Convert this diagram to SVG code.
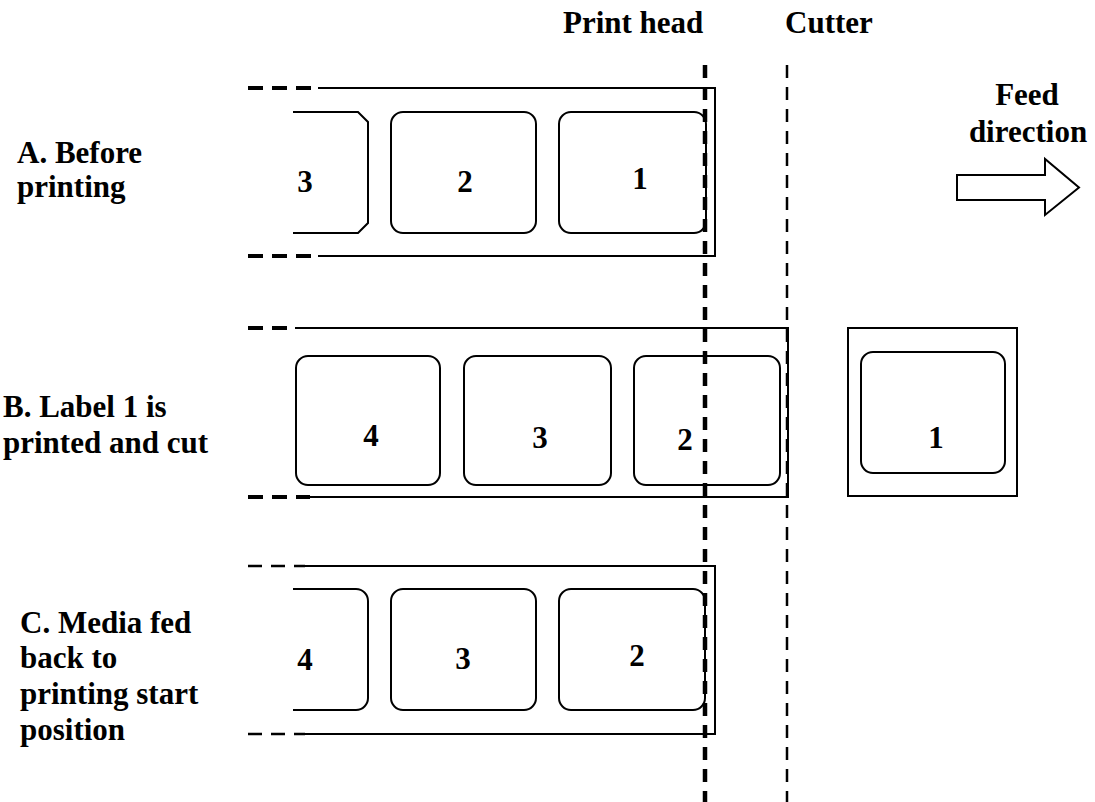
<svg xmlns="http://www.w3.org/2000/svg" width="1095" height="802" viewBox="0 0 1095 802">
<style>
.t{font-family:'Liberation Serif',serif;font-weight:700;font-size:31px;fill:#000}
.ln{fill:none;stroke:#000;stroke-width:2}
.lbl{fill:none;stroke:#000;stroke-width:2}
.dth{fill:none;stroke:#000;stroke-width:4;stroke-dasharray:15 9}
.dtn{fill:none;stroke:#000;stroke-width:2.5;stroke-dasharray:14 9}
</style>
<rect width="1095" height="802" fill="#fff"/>
<g id="titles" class="t" font-family="Liberation Serif, serif">
<text x="563" y="33">Print head</text>
<text x="785" y="33">Cutter</text>
<text x="1027" y="105" text-anchor="middle">Feed</text>
<text x="1028" y="142" text-anchor="middle">direction</text>
</g>
<g id="feed-arrow">
<path class="ln" d="M957,175 H1045 V159 L1079,187.5 L1045,215 V200 H957 Z"/>
</g>
<g id="stepA">
<g class="t" font-family="Liberation Serif, serif">
<text x="17" y="163">A. Before</text>
<text x="17" y="197">printing</text>
<text x="305" y="192" text-anchor="middle">3</text>
<text x="465" y="192" text-anchor="middle">2</text>
<text x="640" y="189" text-anchor="middle">1</text>
</g>
<path class="dth" d="M248,88 H318 M248,256 H318"/>
<path class="ln" d="M318,88 H715 V256 H318"/>
<path class="lbl" d="M293,112 H358 L368,122 V223 L358,233 H293"/>
<rect class="lbl" x="391" y="112" width="145" height="121" rx="12"/>
<rect class="lbl" x="559" y="112" width="147" height="121" rx="12"/>
</g>
<g id="stepB">
<g class="t" font-family="Liberation Serif, serif">
<text x="3" y="417">B. Label 1 is</text>
<text x="3" y="453">printed and cut</text>
<text x="371" y="446" text-anchor="middle">4</text>
<text x="540" y="448" text-anchor="middle">3</text>
<text x="685" y="450" text-anchor="middle">2</text>
</g>
<path class="dth" d="M248,328 H295 M248,497 H310"/>
<path class="ln" d="M295,328 H788 V497 H310"/>
<rect class="lbl" x="296" y="356" width="144" height="129" rx="12"/>
<rect class="lbl" x="464" y="356" width="147" height="129" rx="12"/>
<rect class="lbl" x="634" y="356" width="146" height="129" rx="12"/>
</g>
<g id="cut-label">
<rect class="ln" x="848" y="328" width="169" height="168"/>
<rect class="lbl" x="861" y="352" width="144" height="121" rx="12"/>
<text class="t" font-family="Liberation Serif, serif" x="936" y="448" text-anchor="middle">1</text>
</g>
<g id="stepC">
<g class="t" font-family="Liberation Serif, serif">
<text x="20" y="633">C. Media fed</text>
<text x="20" y="668">back to</text>
<text x="20" y="704">printing start</text>
<text x="20" y="740">position</text>
<text x="305" y="670" text-anchor="middle">4</text>
<text x="463" y="669" text-anchor="middle">3</text>
<text x="637" y="666" text-anchor="middle">2</text>
</g>
<path class="dtn" d="M248,566 H305 M248,734 H305"/>
<path class="ln" d="M300,566 H715 V734 H300"/>
<path class="lbl" d="M293,589 H356 A12,12 0 0 1 368,601 V698 A12,12 0 0 1 356,710 H293"/>
<rect class="lbl" x="391" y="589" width="145" height="121" rx="12"/>
<rect class="lbl" x="559" y="589" width="146" height="121" rx="12"/>
</g>
<g id="connectors">
<line x1="705" y1="65" x2="705" y2="802" stroke="#000" stroke-width="4.5" stroke-dasharray="13 9"/>
<line x1="787" y1="65" x2="787" y2="802" stroke="#000" stroke-width="2.5" stroke-dasharray="13 9"/>
</g>
</svg>
